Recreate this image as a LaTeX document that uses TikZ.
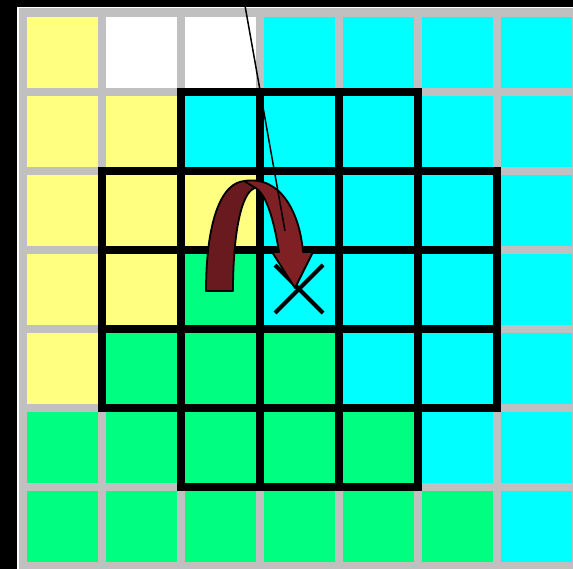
\documentclass[tikz,border=0pt]{standalone}
\definecolor{cyanc}{HTML}{00FFFF}
\definecolor{yel}{HTML}{FFFF80}
\definecolor{grn}{HTML}{00FF80}
\definecolor{gry}{HTML}{C0C0C0}
\definecolor{arrdark}{RGB}{105,26,30}
\definecolor{arrlight}{RGB}{126,32,36}
\tikzset{
  cellbox/.style={line width=8pt, line join=miter, draw=black},
  arrowpart/.style={draw=black, line width=1.8pt, line join=round},
}
\begin{document}
\begin{tikzpicture}[x=1pt,y=-1pt]
\useasboundingbox (0,0) rectangle (573,569);
\fill[black] (0,0) rectangle (573,569);
\fill[white] (17.3,7.3) rectangle (573,569);
\fill[gry] (18.5,8.5) rectangle (573,569);
\foreach \row [count=\i from 0] in {
  {yel,white,white,cyanc,cyanc,cyanc,cyanc},
  {yel,yel,cyanc,cyanc,cyanc,cyanc,cyanc},
  {yel,yel,yel,cyanc,cyanc,cyanc,cyanc},
  {yel,yel,grn,cyanc,cyanc,cyanc,cyanc},
  {yel,grn,grn,grn,cyanc,cyanc,cyanc},
  {grn,grn,grn,grn,grn,cyanc,cyanc},
  {grn,grn,grn,grn,grn,grn,cyanc}} {
  \foreach \c [count=\j from 0] in \row {
    \fill[\c] (26.7+79*\j, 17.3+79*\i) rectangle ++(71,71);
  }
}
\foreach \i/\j in {1/2,1/3,1/4,2/1,2/2,2/3,2/4,2/5,3/1,3/2,3/3,3/4,3/5,4/1,4/2,4/3,4/4,4/5,5/2,5/3,5/4} {
  \draw[cellbox] (22.7+79*\j, 13.3+79*\i) rectangle ++(79,79);
}
% cross
\draw[line width=4.2pt] (275,265) -- (323,313);
\draw[line width=4.2pt] (323,265) -- (275,313);
% curved arrow
\draw[arrowpart, fill=arrdark] (206,291) .. controls (206,225) and (220,181) .. (246,181)
  -- (255,188) .. controls (241,192) and (233,235) .. (233,291) -- cycle;
\draw[arrowpart, fill=arrlight] (244,181) .. controls (282,175) and (300,215) .. (303,252)
  -- (313,252) -- (295,288) -- (272,252) -- (279,252)
  .. controls (273,215) and (265,192) .. (254,187) -- cycle;
% thin line
\coordinate (ls) at (244,0);
\coordinate (le) at (285,231);
\draw[line width=1.5pt] (ls) -- (le);
\end{tikzpicture}
\end{document}
